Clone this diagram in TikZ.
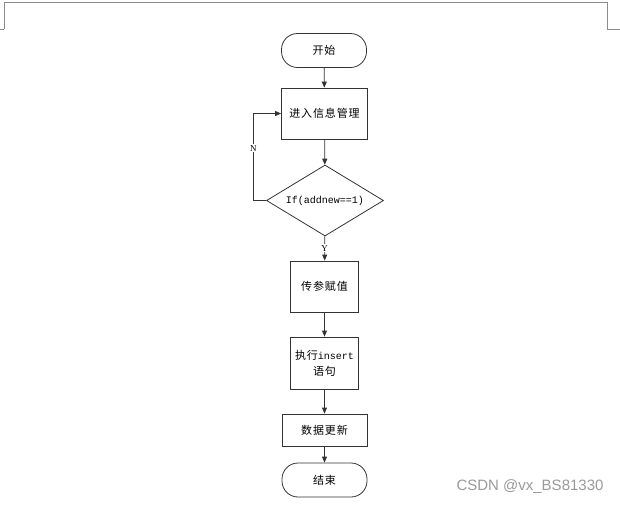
\documentclass[tikz,border=0pt]{standalone}
\usepackage{fontspec}
\setmainfont{Liberation Serif}
\setsansfont{Liberation Sans}
\newfontfamily\cjk[LetterSpace=8]{Noto Sans CJK SC}
\newfontfamily\mono{Liberation Mono}
\usetikzlibrary{arrows.meta,shapes.geometric}

\begin{document}
\begin{tikzpicture}[x=1pt,y=-1pt,
	line width=0.8pt,
	term/.style={draw=black!80,rounded corners=16pt,minimum width=85pt,minimum height=34pt,font=\cjk\fontsize{11}{13}\selectfont},
	proc/.style={draw=black!80,minimum width=68pt,minimum height=51pt,inner sep=2pt,align=center,font=\cjk\fontsize{11}{16}\selectfont},
	dec/.style={draw=black!80,diamond,aspect=1.65,minimum width=117pt,minimum height=71pt,inner sep=0pt,font=\mono\fontsize{10}{12}\selectfont},
	lbl/.style={fill=white,inner sep=1pt,font=\fontsize{9}{10}\selectfont},
	arr/.style={draw=black!80,-{Triangle[length=6pt,width=5pt]}},
	pagemark/.style={draw=black!45,line width=0.6pt}]
	
	\useasboundingbox (0,0) rectangle (620,504);
	
	% page corner marks
	\draw[pagemark] (4,29) -- (4,2) -- (607,2) -- (607,29);
	\draw[pagemark] (0,29) -- (4,29);
	\draw[pagemark] (607,29) -- (620,29);
	
	\node[term] (start) at (324,50.5) {开始};
	\node[proc,minimum width=86pt] (info) at (324.5,113.5) {进入信息管理};
	\node[dec] (check) at (325,200.5) {If(addnew==1)};
	\node[proc] (pass) at (324.5,286.5) {传参赋值};
	\node[proc,minimum height=52pt] (exec) at (324.5,363) {执行{\mono\fontsize{10}{12}\selectfont insert}\\语句};
	\node[proc,minimum width=85pt,minimum height=32pt] (upd) at (324.5,430) {数据更新};
	\node[term,minimum height=34pt] (end) at (324.5,480) {结束};
	
	\coordinate (bend) at (253.3,200.5);
	
	\draw[arr] (start) -- (info);
	\draw[arr] (info) -- (check);
	\draw[arr] (check) -- node[lbl] {Y} (pass);
	\draw[arr] (pass) -- (exec);
	\draw[arr] (exec) -- (upd);
	\draw[arr] (upd) -- (end);
	\draw[arr] (check.west) -- (bend) |- node[lbl,pos=0.3] {N} (info.west);
	
	\node[text=black!40,font=\sffamily\fontsize{15}{16}\selectfont] (wm) at (530,487) {CSDN @vx\_BS81330};
	
\end{tikzpicture}
\end{document}
